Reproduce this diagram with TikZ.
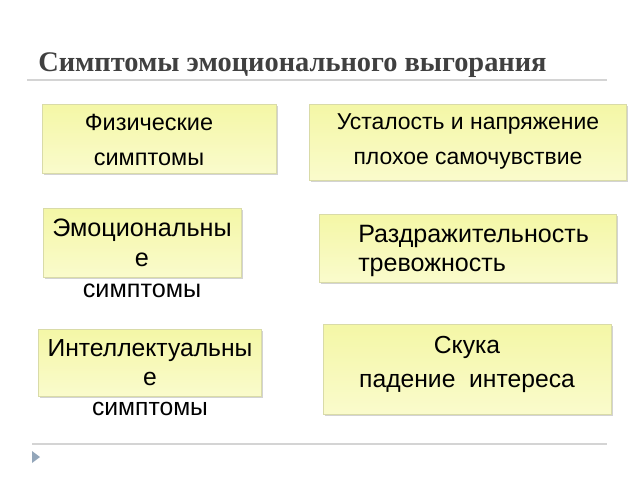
\documentclass[tikz,border=0pt]{standalone}
\usepackage{fontspec}
\setmainfont{Liberation Sans}
\newfontfamily\titlefont{Liberation Serif}
\usetikzlibrary{positioning,shadows}
\definecolor{boxtop}{HTML}{F4F7A6}
\definecolor{boxbot}{HTML}{FAFBCC}
\definecolor{boxline}{HTML}{D9DBA8}
\definecolor{titlegray}{HTML}{404040}
\definecolor{rulegray}{HTML}{D4D4D4}
\definecolor{markblue}{HTML}{93A6BA}
\tikzset{
  symbox/.style={rectangle, draw=boxline, line width=0.4pt, top color=boxtop, bottom color=boxbot,
    drop shadow={shadow xshift=1.2pt, shadow yshift=-1.6pt, opacity=0.35}},
  symtext/.style={align=center, inner sep=0pt, text=black},
}
\begin{document}
\begin{tikzpicture}[x=0.75pt, y=-0.75pt]
    \useasboundingbox (0,0) rectangle (640,480);
    % title and rules
    \node[anchor=base west, inner sep=0pt, text=titlegray, font=\titlefont\bfseries\fontsize{21.3}{25}\selectfont] (title) at (38,71) {Симптомы эмоционального выгорания};
    \draw[rulegray, line width=1.1pt] (27,80) -- (607,80);
    \draw[rulegray, line width=1.1pt] (32,444) -- (607,444);
    \fill[markblue] (32,451) -- (40,457) -- (32,463) -- cycle;
    % boxes
    \node[symbox, minimum width=175.5pt, minimum height=51.75pt] (fiz) at (159,138.5) {};
    \node[symbox, minimum width=237.75pt, minimum height=57pt] (ust) at (467.5,142) {};
    \node[symbox, minimum width=148.5pt, minimum height=51.75pt] (emo) at (142,242.5) {};
    \node[symbox, minimum width=222.75pt, minimum height=51pt] (razd) at (467.5,248) {};
    \node[symbox, minimum width=167.25pt, minimum height=50.25pt] (intel) at (149.5,362.5) {};
    \node[symbox, minimum width=216pt, minimum height=67.5pt] (skuka) at (467,369) {};
    % texts
    \node[symtext, font=\fontsize{17.6}{26.25}\selectfont] (fiztxt) at (149,139.5) {Физические\\симптомы};
    \node[symtext, font=\fontsize{17.2}{26.25}\selectfont] (usttxt) at (468,141) {Усталость и напряжение\\плохое самочувствие};
    \node[symtext, font=\fontsize{18.9}{23}\selectfont] (emotxt) at (142,258) {Эмоциональны\\е\\симптомы};
    \node[symtext, align=left, anchor=west, font=\fontsize{18.8}{22}\selectfont] (razdtxt) at (358,251) {Раздражительность\\тревожность};
    \node[symtext, font=\fontsize{18.5}{22}\selectfont] (inteltxt) at (150,377.5) {Интеллектуальны\\е\\симптомы};
    \node[symtext, font=\fontsize{18.5}{25.5}\selectfont] (skukatxt) at (467,364) {Скука\\падение\ \ интереса};
\end{tikzpicture}
\end{document}
